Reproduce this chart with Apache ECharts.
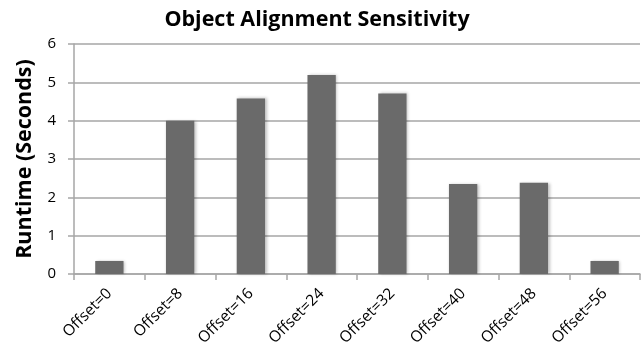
<!DOCTYPE html>
<html>
<head>
<meta charset="utf-8">
<script src="https://cdn.jsdelivr.net/npm/echarts@6/dist/echarts.min.js"></script>
<style>
  html, body { margin: 0; padding: 0; background: #fff; }
  #chart { width: 642px; height: 358px; }
</style>
</head>
<body>
<div id="chart"></div>
<script>
// Runtime per object offset
const categories = ['Offset=0', 'Offset=8', 'Offset=16', 'Offset=24', 'Offset=32', 'Offset=40', 'Offset=48', 'Offset=56'];
const runtimes = [0.34, 4.0, 4.58, 5.19, 4.71, 2.35, 2.38, 0.34];
const yTicks = [0, 1, 2, 3, 4, 5, 6];

const chart = echarts.init(document.getElementById('chart'), null, { renderer: 'canvas' });
const fontFamily = '"Open Sans", "DejaVu Sans", sans-serif';

chart.setOption({
  animation: false,
  backgroundColor: '#ffffff',
  title: {
    text: 'Object Alignment Sensitivity',
    left: 312,
    textAlign: 'center',
    top: 4,
    textStyle: { fontFamily, fontWeight: 'bold', fontSize: 21.5, color: '#000' }
  },
  grid: { left: 74, right: 2, top: 44, bottom: 84, containLabel: false },
  xAxis: {
    type: 'category',
    data: categories,
    axisLine: { show: true, lineStyle: { color: '#a6a6a6', width: 1.5 } },
    axisTick: { show: true, alignWithLabel: false, length: 6, lineStyle: { color: '#a6a6a6', width: 1.5 } },
    axisLabel: {
      rotate: 45, margin: 17, interval: 0,
      fontFamily, fontSize: 15.5, color: '#000'
    },
    splitLine: { show: false }
  },
  yAxis: {
    type: 'value',
    min: yTicks[0],
    max: yTicks[yTicks.length - 1],
    interval: 1,
    name: 'Runtime (Seconds)',
    nameLocation: 'middle',
    nameGap: 38,
    nameRotate: 90,
    nameTextStyle: { fontFamily, fontWeight: 'bold', fontSize: 21.5, color: '#000' },
    axisLine: { show: true, lineStyle: { color: '#a6a6a6', width: 1.5 } },
    axisTick: { show: true, length: 6, lineStyle: { color: '#a6a6a6', width: 1.5 } },
    axisLabel: { margin: 18, fontFamily, fontSize: 15, color: '#000' },
    splitLine: { show: true, lineStyle: { color: '#a6a6a6', width: 1.5 } }
  },
  series: [{
    type: 'bar',
    data: runtimes,
    barWidth: '40%',
    itemStyle: {
      color: '#6a6a6a',
      shadowColor: 'rgba(0,0,0,0.25)',
      shadowBlur: 3,
      shadowOffsetX: 1.5,
      shadowOffsetY: 0
    }
  }]
});
</script>
</body>
</html>
